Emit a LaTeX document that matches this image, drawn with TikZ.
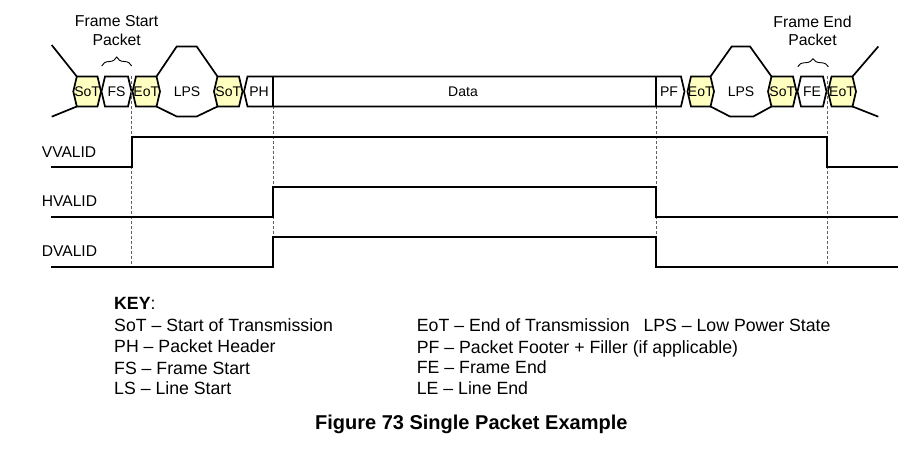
\documentclass[tikz,border=0pt]{standalone}
\usepackage{fontspec}
\setmainfont{Liberation Sans}
\usetikzlibrary{decorations.pathreplacing}
\definecolor{amarilloP}{HTML}{FFFFC0}
\definecolor{grisD}{HTML}{606060}

\begin{document}
\begin{tikzpicture}[x=1pt,y=-1pt,
    bus/.style={black,line width=1.7pt,line join=miter},
    celda/.style={font=\fontsize{14}{16}\selectfont,inner sep=0pt},
    senal/.style={black,line width=2.2pt,line join=miter},
    guia/.style={grisD,line width=0.8pt,dash pattern=on 3pt off 2pt},
    nombre/.style={anchor=west,inner sep=0pt,font=\fontsize{15.6}{18}\selectfont},
    tecla/.style={anchor=base west,inner sep=0pt,font=\fontsize{17.7}{20}\selectfont}]
  \useasboundingbox (0,0) rectangle (918,462);
  % guides
  \draw[guia] (131.7,76.5) -- (131.7,266.7);
  \draw[guia] (273.3,106.5) -- (273.3,266.7);
  \draw[guia] (656,106.5) -- (656,266.7);
  \draw[guia] (827.5,76.5) -- (827.5,266.7);
  % bus
  \draw[bus] (51.7,45) -- (76.8,76.5);
  \draw[bus] (51.7,116.7) -- (76.8,106.5);
  \filldraw[bus,fill=amarilloP] (73.3,91.5) -- (76.8,76.5) -- (97.5,76.5) -- (101,91.5) -- (97.5,106.5) -- (76.8,106.5) -- cycle;
  \filldraw[bus,fill=white] (101.5,91.5) -- (105,76.5) -- (128,76.5) -- (131.5,91.5) -- (128,106.5) -- (105,106.5) -- cycle;
  \filldraw[bus,fill=amarilloP] (132.5,91.5) -- (136,76.5) -- (156.5,76.5) -- (160,91.5) -- (156.5,106.5) -- (136,106.5) -- cycle;
  \draw[bus] (156.5,76.5) -- (176.7,46.5) -- (196.7,46.5) -- (217.5,76.5);
  \draw[bus] (156.5,106.5) -- (176.7,116.5) -- (196.7,116.5) -- (217.5,106.5);
  \filldraw[bus,fill=amarilloP] (214,91.5) -- (217.5,76.5) -- (239,76.5) -- (242.5,91.5) -- (239,106.5) -- (217.5,106.5) -- cycle;
  \filldraw[bus,fill=white] (244,91.5) -- (247.5,76.5) -- (681,76.5) -- (684.5,91.5) -- (681,106.5) -- (247.5,106.5) -- cycle;
  \draw[bus] (273.3,76.5) -- (273.3,106.5);
  \draw[bus] (656,76.5) -- (656,106.5);
  \filldraw[bus,fill=amarilloP] (687.5,91.5) -- (691,76.5) -- (710.5,76.5) -- (714,91.5) -- (710.5,106.5) -- (691,106.5) -- cycle;
  \draw[bus] (710.5,76.5) -- (731.7,46.5) -- (750,46.5) -- (771.5,76.5);
  \draw[bus] (710.5,106.5) -- (730,116.5) -- (753.3,116.5) -- (771.5,106.5);
  \filldraw[bus,fill=amarilloP] (768,91.5) -- (771.5,76.5) -- (793,76.5) -- (796.5,91.5) -- (793,106.5) -- (771.5,106.5) -- cycle;
  \filldraw[bus,fill=white] (797.5,91.5) -- (801,76.5) -- (823,76.5) -- (826.5,91.5) -- (823,106.5) -- (801,106.5) -- cycle;
  \filldraw[bus,fill=amarilloP] (828,91.5) -- (831.5,76.5) -- (852.5,76.5) -- (856,91.5) -- (852.5,106.5) -- (831.5,106.5) -- cycle;
  \draw[bus] (852.5,76.5) -- (878.3,46.5);
  \draw[bus] (852.5,106.5) -- (878.3,116.7);
  \draw[guia] (131.7,76.5) -- (131.7,106.5);
  \draw[guia] (827.5,76.5) -- (827.5,106.5);
  % cell labels
  \node[celda] (sot1) at (87.2,91.5) {SoT};
  \node[celda] (fs) at (116.5,91.5) {FS};
  \node[celda] (eot1) at (146.3,91.5) {EoT};
  \node[celda] (lps1) at (187,91.5) {LPS};
  \node[celda] (sot2) at (228.3,91.5) {SoT};
  \node[celda] (ph) at (259,91.5) {PH};
  \node[celda] (data) at (463,91.5) {Data};
  \node[celda] (pf) at (669,91.5) {PF};
  \node[celda] (eot2) at (700.8,91.5) {EoT};
  \node[celda] (lps2) at (741,91.5) {LPS};
  \node[celda] (sot3) at (782.3,91.5) {SoT};
  \node[celda] (fe) at (812,91.5) {FE};
  \node[celda] (eot3) at (842,91.5) {EoT};
  % braces
  \draw[line width=0.9pt,decorate,decoration={brace,amplitude=9pt}] (101.7,66) -- (131.7,66);
  \draw[line width=0.9pt,decorate,decoration={brace,amplitude=8pt}] (797.7,66.7) -- (828.3,66.7);
  \node[inner sep=0pt,align=center,font=\fontsize{15.8}{18.5}\selectfont] (fsp) at (116.7,30.8) {Frame Start\\Packet};
  \node[inner sep=0pt,align=center,font=\fontsize{15.8}{18.5}\selectfont] (fep) at (812.5,30.8) {Frame End\\Packet};
  % signals
  \node[nombre] (vvalid) at (41.7,152.3) {VVALID};
  \node[nombre] (hvalid) at (41.7,201) {HVALID};
  \node[nombre] (dvalid) at (41.7,250.7) {DVALID};
  \draw[senal] (51,166.7) -- (131.7,166.7) -- (131.7,136.7) -- (827.3,136.7) -- (827.3,166.7) -- (898,166.7);
  \draw[senal] (51,216.7) -- (273.3,216.7) -- (273.3,186.7) -- (656,186.7) -- (656,216.7) -- (898,216.7);
  \draw[senal] (51,266.7) -- (273.3,266.7) -- (273.3,236.7) -- (656,236.7) -- (656,266.7) -- (898,266.7);
  % key
  \node[tecla] (key) at (114,309.3) {\textbf{KEY}:};
  \node[tecla] (ksot) at (114,331.7) {SoT -- Start of Transmission};
  \node[tecla] (kph) at (114,352.7) {PH -- Packet Header};
  \node[tecla] (kfs) at (114,374) {FS -- Frame Start};
  \node[tecla] (kls) at (114,394.3) {LS -- Line Start};
  \node[tecla] (keot) at (416.7,331.7) {EoT -- End of Transmission};
  \node[tecla] (klps) at (643.3,331.7) {LPS -- Low Power State};
  \node[tecla] (kpf) at (416.7,353.3) {PF -- Packet Footer + Filler (if applicable)};
  \node[tecla] (kfe) at (416.7,373.3) {FE -- Frame End};
  \node[tecla] (kle) at (416.7,394.3) {LE -- Line End};
  \node[anchor=base,inner sep=0pt,font=\bfseries\fontsize{20}{24}\selectfont] (titulo) at (471.3,429.3) {Figure 73 Single Packet Example};
\end{tikzpicture}
\end{document}
